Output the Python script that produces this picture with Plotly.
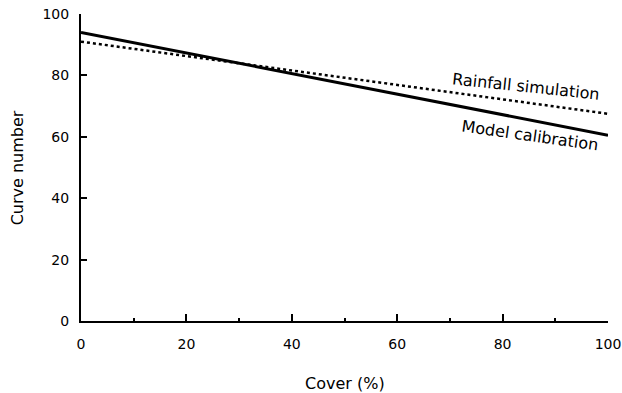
import plotly.graph_objects as go

cover = [0, 100]
model_calibration = [94.0, 60.5]
rainfall_simulation = [91.0, 67.5]
x_ticks = [0, 20, 40, 60, 80, 100]
x_minor = [10, 30, 50, 70, 90]
y_ticks = [0, 20, 40, 60, 80, 100]

fig = go.Figure()
fig.add_trace(go.Scatter(x=cover, y=model_calibration, mode="lines",
                         line=dict(color="black", width=3), name="Model calibration"))
fig.add_trace(go.Scatter(x=cover, y=rainfall_simulation, mode="lines",
                         line=dict(color="black", width=2.5, dash="dot"), name="Rainfall simulation"))

font = "DejaVu Sans, Verdana, sans-serif"
fig.add_annotation(x=84.4, y=76.5, text="Rainfall simulation", showarrow=False, textangle=6,
                   font=dict(family=font, size=16, color="black"))
fig.add_annotation(x=85.2, y=60.3, text="Model calibration", showarrow=False, textangle=8,
                   font=dict(family=font, size=16, color="black"))
fig.add_annotation(xref="paper", yref="paper", x=0.5, y=-0.202, text="Cover (%)",
                   showarrow=False, xanchor="center", yanchor="middle",
                   font=dict(family=font, size=16, color="black"))
fig.add_annotation(xref="paper", yref="paper", x=-0.121, y=0.498, text="Curve number",
                   showarrow=False, xanchor="center", yanchor="middle", textangle=-90,
                   font=dict(family=font, size=16, color="black"))

fig.update_layout(
    width=622, height=393,
    margin=dict(l=81, r=14, t=14, b=72, autoexpand=False),
    plot_bgcolor="white", paper_bgcolor="white",
    showlegend=False,
    font=dict(family=font, color="black"),
)
fig.update_xaxes(range=[0, 100], tickvals=x_ticks, ticks="inside", ticklen=7, tickwidth=1.5,
                 tickcolor="black", showline=True, linecolor="black", linewidth=2, showgrid=False,
                 zeroline=False, tickfont=dict(size=14), ticklabelstandoff=9,
                 ticklabeloverflow="allow", automargin=False,
                 minor=dict(tickvals=x_minor, ticks="inside", ticklen=3, tickcolor="black"))
fig.update_yaxes(range=[0, 100], tickvals=y_ticks, ticks="inside", ticklen=6, tickwidth=2,
                 tickcolor="black", showline=True, linecolor="black", linewidth=2, showgrid=False,
                 zeroline=False, tickfont=dict(size=14), ticklabelstandoff=7,
                 ticklabeloverflow="allow", automargin=False)

fig.write_html("out.html", config={"displayModeBar": False},
               post_script="document.body.style.margin='0px';")
